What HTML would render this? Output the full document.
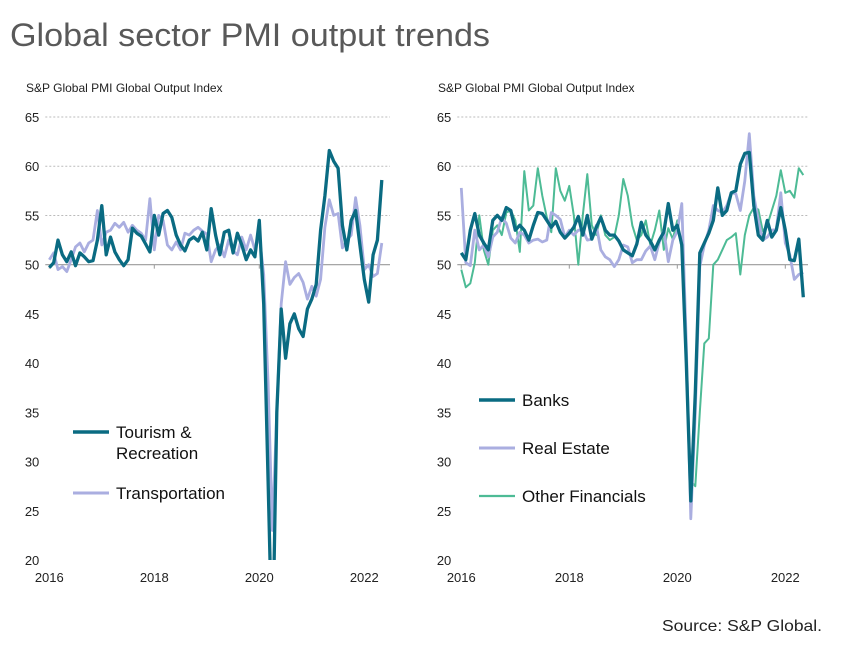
<!DOCTYPE html>
<html><head><meta charset="utf-8"><style>
body{margin:0;background:#fff;width:847px;height:656px;overflow:hidden;font-family:"Liberation Sans",sans-serif}
svg{position:absolute;left:0;top:0}
</style></head><body>
<svg id="c" width="847" height="656">
<text x="10" y="46" font-size="32" textLength="480" lengthAdjust="spacingAndGlyphs" fill="#595959" font-family="Liberation Sans, sans-serif">Global sector PMI output trends</text>
<text x="26" y="92" font-size="12" fill="#222">S&amp;P Global PMI Global Output Index</text>
<text x="438" y="92" font-size="12" fill="#222">S&amp;P Global PMI Global Output Index</text>
<text x="662" y="631" font-size="16" textLength="160" lengthAdjust="spacingAndGlyphs" fill="#222">Source: S&amp;P Global.</text>
</svg>
<script>
const yTicks=[20,25,30,35,40,45,50,55,60,65];
const xTickLabels=["2016","2018","2020","2022"];
const tourism=[49.7,50.2,52.5,51.0,50.3,51.3,49.9,51.2,50.8,50.3,50.4,52.5,56.0,51.0,52.8,51.3,50.5,49.9,50.5,53.7,53.2,52.9,52.1,51.3,55.0,53.0,55.2,55.5,54.8,53.0,52.0,51.4,52.5,52.8,52.4,53.3,51.5,55.7,53.0,51.0,53.3,53.5,51.2,53.2,52.0,50.5,51.5,50.8,54.5,46.0,28.0,10.0,35.0,45.5,40.5,44.0,45.0,43.5,42.7,45.5,46.5,48.0,53.5,57.0,61.6,60.5,59.8,54.0,51.5,54.5,55.5,52.0,48.5,46.2,51.0,52.5,58.6];
const transport=[50.5,51.2,49.5,49.8,49.3,50.5,51.8,52.2,51.3,52.2,52.5,55.5,52.0,53.3,53.5,54.2,53.8,54.3,53.3,54.0,53.5,53.2,52.5,56.7,51.5,55.0,54.5,52.0,51.5,52.3,51.5,53.2,53.0,53.5,53.8,53.4,53.1,50.3,51.5,52.0,50.8,52.5,51.4,51.0,52.8,51.5,53.0,51.5,53.0,49.0,38.0,23.0,35.0,46.0,50.3,48.0,48.7,49.1,48.2,46.5,47.8,46.8,48.5,53.8,56.6,55.0,55.2,51.7,52.5,53.0,56.8,54.0,49.5,50.0,48.8,49.1,52.2];
const banks=[51.2,50.5,53.5,55.2,53.0,52.2,51.5,54.5,55.0,54.5,55.8,55.5,53.5,54.0,53.5,52.5,54.0,55.3,55.2,54.5,53.8,54.4,53.3,52.7,53.2,53.8,54.9,53.0,55.0,52.6,53.8,54.8,53.5,53.0,53.0,52.4,51.5,51.2,50.9,52.1,54.3,53.0,52.4,51.5,52.5,53.3,56.2,53.5,54.0,52.0,40.0,26.0,37.0,51.2,52.2,53.2,54.5,57.8,55.0,55.5,57.3,57.5,60.2,61.3,61.4,56.0,53.0,52.5,54.5,52.8,53.5,55.8,53.5,50.5,50.4,52.6,46.7];
const realEstate=[57.8,50.2,49.9,53.5,51.5,52.0,50.8,52.8,53.3,54.8,54.2,52.7,52.2,53.3,53.0,52.2,52.5,52.6,52.3,52.5,55.3,55.0,54.6,52.8,53.5,53.0,53.5,53.5,52.5,52.6,54.0,51.5,50.8,50.5,49.8,50.5,52.0,51.8,50.2,50.5,50.5,51.4,51.9,50.5,52.3,53.5,50.3,52.5,53.4,56.2,42.0,24.2,35.0,49.8,52.0,53.5,56.0,55.5,55.3,56.0,57.3,57.2,55.5,58.5,63.3,57.0,54.5,52.5,52.8,53.5,53.6,57.3,52.2,51.0,48.5,49.0,49.2];
const otherFin=[49.5,47.7,48.1,50.2,55.0,51.5,50.0,53.5,54.0,53.0,55.3,55.5,54.5,51.3,59.5,55.5,56.0,59.8,57.0,54.8,53.3,59.8,57.5,56.5,58.0,55.0,50.0,55.0,59.2,54.0,53.0,55.0,53.0,52.5,52.8,55.0,58.7,57.0,54.0,52.5,53.0,54.5,52.0,53.5,55.5,51.5,53.7,52.6,54.5,51.5,40.0,28.0,27.5,35.0,42.0,42.5,50.0,50.5,51.5,52.5,52.8,53.2,49.0,53.0,55.0,55.8,55.6,53.4,54.0,55.5,57.0,59.6,57.3,57.5,56.8,59.8,59.1];

const NS="http://www.w3.org/2000/svg";
const svg=document.getElementById('c');
function mk(t,a){const e=document.createElementNS(NS,t);for(const k in a)e.setAttribute(k,a[k]);svg.appendChild(e);return e;}
function yS(v){return 560-(v-20)*(560-117)/45;}
function panel(x0,pm,right,series,prefix){
  const xS=m=>x0+m*pm;
  const clip=mk('clipPath',{id:prefix+'clip'});
  const r=document.createElementNS(NS,'rect');r.setAttribute('x',x0-10);r.setAttribute('y',117);r.setAttribute('width',right-x0+20);r.setAttribute('height',443);clip.appendChild(r);
  yTicks.forEach(v=>{
    if(v>50){const g=mk('line',{x1:x0-4,x2:right,y1:yS(v),y2:yS(v),stroke:'#bbb','stroke-dasharray':'2,2'});
    }
    const t=mk('text',{x:x0-10,y:yS(v)+5,'font-size':13,fill:'#222','text-anchor':'end'});t.textContent=v;
    
  });
  const ax=mk('line',{x1:x0-4,x2:right,y1:yS(50),y2:yS(50),stroke:'#999','stroke-width':1.2});
  
  xTickLabels.forEach((l,i)=>{
    const x=xS(i*24);
    mk('line',{x1:x,x2:x,y1:yS(50),y2:yS(50)+4,stroke:'#999'});
    const t=mk('text',{x:x,y:582,'font-size':13,fill:'#222','text-anchor':'middle'});t.textContent=l;
    
  });
  series.forEach(s=>{
    const d=s.data.map((v,i)=>(i?'L':'M')+xS(i).toFixed(1)+','+yS(v).toFixed(1)).join('');
    const p=mk('path',{d:d,fill:'none',stroke:s.color,'stroke-width':s.w,'stroke-linejoin':'round','clip-path':'url(#'+prefix+'clip)'});
    
  });
}
panel(49.3,4.375,390,[{data:transport,color:'#aaaee0',w:2.8,name:'transportation'},{data:tourism,color:'#0a6b82',w:3.3,name:'tourism'}],'l');
panel(461.3,4.5,808,[{data:otherFin,color:'#4dbb95',w:2,name:'other-financials'},{data:realEstate,color:'#aaaee0',w:2.8,name:'real-estate'},{data:banks,color:'#0a6b82',w:3.3,name:'banks'}],'r');

function legend(x,y,color,w,lines,name){
  const l=mk('line',{x1:x,x2:x+36,y1:y,y2:y,stroke:color,'stroke-width':w});
  
  lines.forEach((s,i)=>{const t=mk('text',{x:x+43,y:y+6+i*21,'font-size':17,fill:'#111'});t.textContent=s;
    });
}
legend(73,432,'#0a6b82',3.5,['Tourism &','Recreation'],'tourism');
legend(73,493,'#aaaee0',3,['Transportation'],'transportation');
legend(479,400,'#0a6b82',3.5,['Banks'],'banks');
legend(479,448,'#aaaee0',3,['Real Estate'],'real-estate');
legend(479,496,'#4dbb95',2.2,['Other Financials'],'other-financials');
</script>
</body></html>
